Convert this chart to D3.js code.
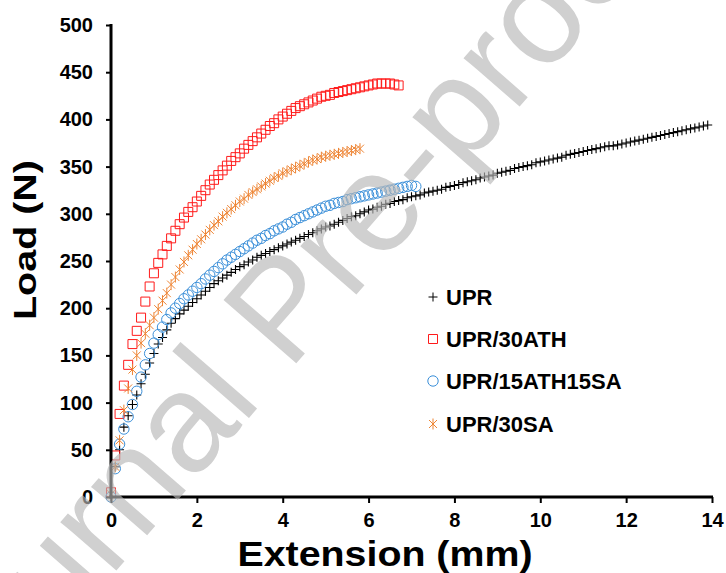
<!DOCTYPE html>
<html>
<head>
<meta charset="utf-8">
<script src="https://cdn.jsdelivr.net/npm/d3@7"></script>
<style>
  body { margin: 0; background: #fff; }
  svg { display: block; font-family: "Liberation Sans", Arial, sans-serif; }
</style>
</head>
<body>
<svg id="chart" width="726" height="573"></svg>
<script>
// extension (mm) sample positions, shared by all series
var extension = [
  0,0.1,0.2,0.3,0.4,0.5,0.6,0.7,0.8,0.9,
  1,1.1,1.2,1.3,1.4,1.5,1.6,1.7,1.8,1.9,
  2,2.1,2.2,2.3,2.4,2.5,2.6,2.7,2.8,2.9,
  3,3.1,3.2,3.3,3.4,3.5,3.6,3.7,3.8,3.9,
  4,4.1,4.2,4.3,4.4,4.5,4.6,4.7,4.8,4.9,
  5,5.1,5.2,5.3,5.4,5.5,5.6,5.7,5.8,5.9,
  6,6.1,6.2,6.3,6.4,6.5,6.6,6.7,6.8,6.9,
  7,7.1,7.2,7.3,7.4,7.5,7.6,7.7,7.8,7.9,
  8,8.1,8.2,8.3,8.4,8.5,8.6,8.7,8.8,8.9,
  9,9.1,9.2,9.3,9.4,9.5,9.6,9.7,9.8,9.9,
  10,10.1,10.2,10.3,10.4,10.5,10.6,10.7,10.8,10.9,
  11,11.1,11.2,11.3,11.4,11.5,11.6,11.7,11.8,11.9,
  12,12.1,12.2,12.3,12.4,12.5,12.6,12.7,12.8,12.9,
  13,13.1,13.2,13.3,13.4,13.5,13.6,13.7,13.8,13.9
];

// load (N) for each material
var loadUPR = [
  0,32,50,74,86,98,108,120,130,142,
  152,162,169,177,184,189,194,198,202,206,
  210,214,218,222,226,229,232,235,238,241,
  244,246,249,251,254,256,258,260,262,264,
  266,268,270,272,274,276,278,280,282,284,
  286,287,289,291,293,295,297,298,300,302,
  304,305,307,308,310,311,313,314,315,317,
  318,319,320,322,323,324,325,326,328,329,
  330,331,333,334,335,336,338,339,340,341,
  343,344,345,346,348,349,350,351,352,354,
  355,356,357,358,359,360,362,363,364,365,
  366,367,368,369,370,371,372,372,373,374,
  375,376,377,378,379,380,381,382,383,384,
  385,386,387,388,389,390,391,392,393,394
];
var loadATH = [
  5,44,88,118,140,162,176,190,207,223,
  237,248,257,266,274,282,289,296,302,307,
  313,319,325,331,336,341,346,351,356,360,
  364,369,373,377,381,385,389,393,396,400,
  403,406,409,412,414,416,418,420,422,424,
  425,426,428,429,430,431,432,433,434,435,
  436,437,438,438,438,438,437,436
];
var loadATHSA = [
  0,30,56,72,85,98,112,127,140,152,
  163,172,180,188,195,200,205,210,214,218,
  222,226,231,235,239,243,247,251,254,257,
  260,263,266,269,272,274,277,279,282,284,
  286,289,291,294,296,298,300,302,304,306,
  308,309,311,312,313,315,316,317,318,319,
  320,321,322,323,324,325,326,327,328,329,
  330,329
];
var loadSA = [
  3,32,60,92,115,135,150,163,173,182,
  190,199,208,216,225,233,241,249,256,262,
  268,273,278,283,288,292,297,301,305,309,
  313,316,320,323,326,329,332,335,338,340,
  343,345,347,349,351,353,355,357,358,360,
  361,362,363,364,365,366,367,368,369
];

var seriesNames = ["UPR", "UPR/30ATH", "UPR/15ATH15SA", "UPR/30SA"];
var seriesLoads = [loadUPR, loadATH, loadATHSA, loadSA];
var seriesColors = ["#000000", "#ff1a1a", "#3a8fd9", "#ee8433"];
var seriesMarkers = ["plus", "square", "circle", "star"];

var xTicks = [0, 2, 4, 6, 8, 10, 12, 14];
var yTicks = [0, 50, 100, 150, 200, 250, 300, 350, 400, 450, 500];

var svg = d3.select("#chart");

var x = d3.scaleLinear().domain([0, 14]).range([111, 712]);
var y = d3.scaleLinear().domain([0, 500]).range([497, 25]);

// marker shapes drawn as paths around 0,0
function markerPath(kind) {
  if (kind == "plus") return "M-4.5,0H4.5M0,-4.5V4.5";
  if (kind == "square") return "M-4.5,-4.5H4.5V4.5H-4.5Z";
  if (kind == "circle") return d3.arc()({innerRadius: 0, outerRadius: 5.2, startAngle: 0, endAngle: 2 * Math.PI});
  return "M-4,-4L4,4M-4,4L4,-4M0,-5.5V5.5";
}

// data
var g_data = svg.append("g");
for (var s = 0; s < seriesLoads.length; s++) {
  var pts = seriesLoads[s].map(function(d, i) { return [extension[i], d]; });
  g_data.append("g").selectAll("path").data(pts)
    .enter().append("path")
    .attr("d", markerPath(seriesMarkers[s]))
    .attr("transform", function(d) { return "translate(" + x(d[0]) + "," + y(d[1]) + ")"; })
    .attr("fill", "none")
    .attr("stroke", seriesColors[s])
    .attr("stroke-width", seriesMarkers[s] == "plus" ? 1.1 : 1);
}

// axes
var xMinor = d3.range(0, 14.01, 0.4).filter(function(v) { return Math.abs(v / 2 - Math.round(v / 2)) > 0.01; });
var yMinor = d3.range(0, 501, 10).filter(function(v) { return v % 50 != 0; });

var gx = svg.append("g").attr("transform", "translate(0," + y(0) + ")");
gx.call(d3.axisBottom(x).tickValues(xMinor).tickSize(4).tickFormat(""));
gx.call(d3.axisBottom(x).tickValues(xTicks).tickSize(6).tickPadding(10).tickFormat(d3.format("d")));
gx.selectAll(".domain").remove();
gx.append("line").attr("x1", x(0) - 1.5).attr("x2", x(14) + 1).attr("stroke", "#000").attr("stroke-width", 3);

var gy = svg.append("g").attr("transform", "translate(" + x(0) + ",0)");
gy.call(d3.axisLeft(y).tickValues(yMinor).tickSize(4).tickFormat(""));
gy.call(d3.axisLeft(y).tickValues(yTicks).tickSize(5).tickPadding(13).tickFormat(d3.format("d")));
gy.selectAll(".domain").remove();
gy.append("line").attr("y1", y(500) - 1).attr("y2", y(0) + 1.5).attr("stroke", "#000").attr("stroke-width", 3);

svg.selectAll(".tick line").attr("stroke", "#000").attr("stroke-width", 2);
svg.selectAll(".tick text")
  .attr("fill", "#000")
  .style("font-size", "20px")
  .style("font-weight", "bold")
  .style("font-family", "'Liberation Sans', Arial, sans-serif");

// axis titles
svg.append("text")
  .attr("x", 385).attr("y", 566)
  .attr("text-anchor", "middle")
  .attr("textLength", 295).attr("lengthAdjust", "spacingAndGlyphs")
  .style("font-size", "35px").style("font-weight", "bold")
  .text("Extension (mm)");

svg.append("text")
  .attr("transform", "translate(36,240) rotate(-90)")
  .attr("text-anchor", "middle")
  .attr("textLength", 160).attr("lengthAdjust", "spacingAndGlyphs")
  .style("font-size", "31px").style("font-weight", "bold")
  .text("Load (N)");

// legend
var legend = svg.append("g");
var legRows = [297, 339, 381, 424];
for (var k = 0; k < seriesNames.length; k++) {
  legend.append("path")
    .attr("d", markerPath(seriesMarkers[k]))
    .attr("transform", "translate(433," + legRows[k] + ")")
    .attr("fill", "none")
    .attr("stroke", seriesColors[k])
    .attr("stroke-width", 1);
  legend.append("text")
    .attr("x", 446).attr("y", legRows[k] + 8)
    .style("font-size", "22px").style("font-weight", "bold")
    .text(seriesNames[k]);
}

// watermark on top
svg.append("text")
  .attr("transform", "translate(-38,748) rotate(-49)")
  .attr("fill", "#b7b7b7")
  .attr("opacity", 0.65)
  .style("font-size", "140px")
  .text("Journal Pre-proof");
</script>
</body>
</html>
